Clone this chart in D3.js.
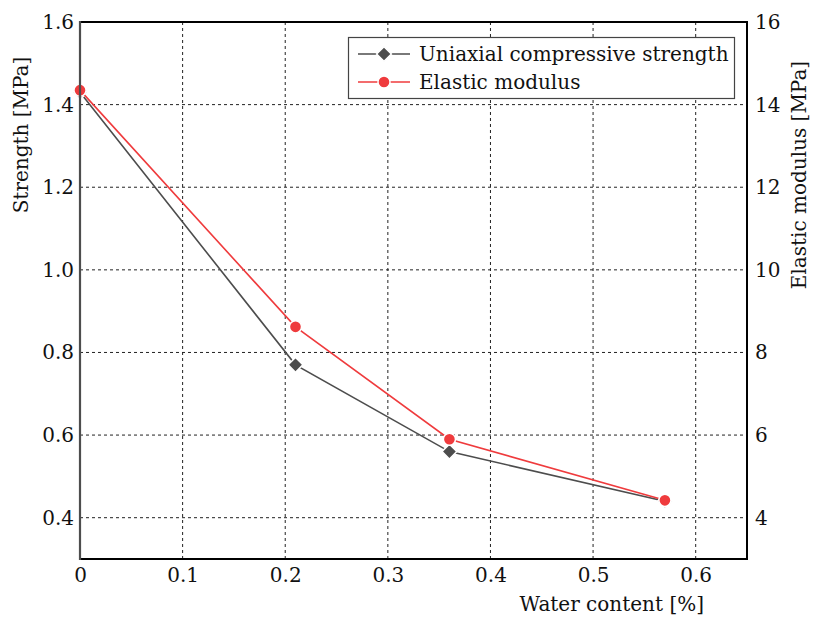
<!DOCTYPE html>
<html>
<head>
<meta charset="utf-8">
<script src="https://cdn.jsdelivr.net/npm/d3@7"></script>
<style>
  html, body { margin: 0; padding: 0; background: #fff; }
</style>
</head>
<body>
<svg id="chart" width="814" height="617"></svg>
<script>
// Water content (%) at each test
const waterContent = [0, 0.21, 0.36, 0.57];
// Uniaxial compressive strength (MPa) — left axis
const strength = [1.43, 0.77, 0.56, 0.44];
// Elastic modulus (MPa) — right axis
const modulus = [14.35, 8.62, 5.9, 4.42];

const xTicks = [0, 0.1, 0.2, 0.3, 0.4, 0.5, 0.6];
const yLeftTicks = [0.4, 0.6, 0.8, 1.0, 1.2, 1.4, 1.6];
const yRightTicks = [4, 6, 8, 10, 12, 14, 16];

const seriesNames = ["Uniaxial compressive strength", "Elastic modulus"];
const colors = { strength: "#4d4d4d", modulus: "#ef3b3d" };
const FONT = "'DejaVu Serif', 'Liberation Serif', serif";

const svg = d3.select("#chart").attr("font-family", FONT);
const m = { left: 80, right: 814 - 747, top: 22, bottom: 617 - 559 };
const W = 814, H = 617;

const x = d3.scaleLinear().domain([0, 0.65]).range([m.left, W - m.right]);
const yL = d3.scaleLinear().domain([0.3, 1.6]).range([H - m.bottom, m.top]);
const yR = d3.scaleLinear().domain([3, 16]).range([H - m.bottom, m.top]);

// dashed grid
const grid = svg.append("g");
grid.selectAll("line.vx").data(xTicks.filter(d => d > 0)).join("line")
  .attr("x1", d => x(d)).attr("x2", d => x(d))
  .attr("y1", m.top).attr("y2", H - m.bottom)
  .attr("stroke", "#222").attr("stroke-width", 1).attr("stroke-dasharray", "3,3");
grid.selectAll("line.hy").data(yLeftTicks.filter(d => d < 1.6)).join("line")
  .attr("x1", m.left).attr("x2", W - m.right)
  .attr("y1", d => yL(d)).attr("y2", d => yL(d))
  .attr("stroke", "#222").attr("stroke-width", 1).attr("stroke-dasharray", "3,3");

// series
function markerPath(shape) {
  return d3.symbol().type(shape === "diamond" ? d3.symbolSquare : d3.symbolCircle)
    .size(shape === "diamond" ? 110 : 115)();
}
function drawSeries(vals, y, color, shape) {
  const line = d3.line().x((d, i) => x(waterContent[i])).y(d => y(d));
  svg.append("path").datum(vals).attr("d", line)
    .attr("fill", "none").attr("stroke", color).attr("stroke-width", 1.6);
  svg.append("g").selectAll("path").data(vals).join("path")
    .attr("d", markerPath(shape))
    .attr("transform", (d, i) => `translate(${x(waterContent[i])},${y(d)})` + (shape === "diamond" ? " rotate(45)" : ""))
    .attr("fill", color).attr("stroke", "#fff").attr("stroke-width", 1.5);
}
drawSeries(strength, yL, colors.strength, "diamond");
drawSeries(modulus, yR, colors.modulus, "circle");

// frame
const fr = svg.append("g");
fr.append("line").attr("x1", m.left).attr("x2", W - m.right).attr("y1", m.top).attr("y2", m.top)
  .attr("stroke", "#000").attr("stroke-width", 2);
fr.append("line").attr("x1", m.left).attr("x2", W - m.right).attr("y1", H - m.bottom).attr("y2", H - m.bottom)
  .attr("stroke", "#000").attr("stroke-width", 2);
fr.append("line").attr("x1", W - m.right).attr("x2", W - m.right).attr("y1", m.top - 1).attr("y2", H - m.bottom + 1)
  .attr("stroke", "#000").attr("stroke-width", 2);
fr.append("line").attr("x1", m.left).attr("x2", m.left).attr("y1", m.top - 1).attr("y2", H - m.bottom + 1)
  .attr("stroke", colors.strength).attr("stroke-width", 2.2);

// axes (labels only, no tick marks)
const fs = 20;
const xAxis = d3.axisBottom(x).tickValues(xTicks).tickSize(0).tickPadding(9).tickFormat(d3.format("~g"));
const gx = svg.append("g").attr("transform", `translate(0,${H - m.bottom})`).call(xAxis);
const yAxisL = d3.axisLeft(yL).tickValues(yLeftTicks).tickSize(0).tickPadding(6).tickFormat(d3.format(".1f"));
const gyl = svg.append("g").attr("transform", `translate(${m.left},0)`).call(yAxisL);
const yAxisR = d3.axisRight(yR).tickValues(yRightTicks).tickSize(0).tickPadding(8).tickFormat(d3.format("d"));
const gyr = svg.append("g").attr("transform", `translate(${W - m.right},0)`).call(yAxisR);
[gx, gyl, gyr].forEach(g => {
  g.attr("font-family", FONT).attr("font-size", fs);
  g.select(".domain").remove();
  g.selectAll("text").attr("fill", "#111");
});

// axis titles
const titles = svg.append("g").attr("font-size", fs).attr("fill", "#111");
titles.append("text").attr("x", 704).attr("y", 611).attr("text-anchor", "end")
  .text("Water content [%]");
titles.append("text").attr("transform", "translate(28,135) rotate(-90)").attr("text-anchor", "middle")
  .text("Strength [MPa]");
titles.append("text").attr("transform", "translate(806,175) rotate(-90)").attr("text-anchor", "middle")
  .text("Elastic modulus [MPa]");

// legend
const lg = svg.append("g");
lg.append("rect").attr("x", 348.5).attr("y", 37.5).attr("width", 386).attr("height", 61)
  .attr("fill", "#fff").attr("stroke", "#444").attr("stroke-width", 1.2);
const items = [
  { name: seriesNames[0], color: colors.strength, shape: "diamond", y: 54 },
  { name: seriesNames[1], color: colors.modulus, shape: "circle", y: 82 }
];
items.forEach(it => {
  lg.append("line").attr("x1", 358).attr("x2", 410).attr("y1", it.y).attr("y2", it.y)
    .attr("stroke", it.color).attr("stroke-width", 1.6);
  lg.append("path").attr("d", markerPath(it.shape))
    .attr("transform", `translate(384,${it.y})` + (it.shape === "diamond" ? " rotate(45)" : ""))
    .attr("fill", it.color).attr("stroke", "#fff").attr("stroke-width", 1.5);
  lg.append("text").attr("x", 419).attr("y", it.y + 7).attr("font-size", fs).attr("fill", "#111").text(it.name);
});
</script>
</body>
</html>
